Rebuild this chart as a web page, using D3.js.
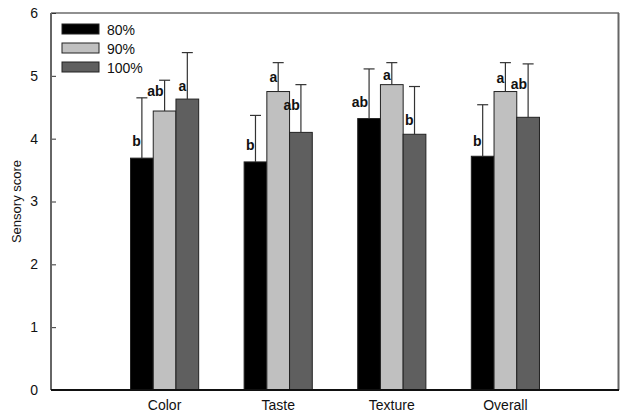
<!DOCTYPE html>
<html><head><meta charset="utf-8">
<script src="https://cdn.jsdelivr.net/npm/d3@7"></script>
<style>body{margin:0;background:#fff}svg{display:block}text{font-family:"Liberation Sans",Arial,sans-serif}</style>
</head><body>
<script>
const categories = ["Color","Taste","Texture","Overall"];
const seriesNames = ["80%","90%","100%"];
const s80  = [3.69, 3.63, 4.32, 3.72];
const s90  = [4.44, 4.75, 4.86, 4.75];
const s100 = [4.63, 4.10, 4.07, 4.34];
const e80  = [0.96, 0.74, 0.79, 0.82];
const e90  = [0.49, 0.46, 0.35, 0.46];
const e100 = [0.74, 0.76, 0.76, 0.85];
const letters80  = ["b","b","ab","b"];
const letters90  = ["ab","a","a","a"];
const letters100 = ["a","ab","b","ab"];
const labelAt80  = [3.89, 3.82, 4.51, 3.89];
const labelAt90  = [4.68, 4.90, 4.93, 4.89];
const labelAt100 = [4.76, 4.46, 4.22, 4.79];
const yTicks = [0,1,2,3,4,5,6];
const colors = ["#000000","#c0c0c0","#5f5f5f"];

const values=[s80,s90,s100], errs=[e80,e90,e100], letters=[letters80,letters90,letters100], labelAt=[labelAt80,labelAt90,labelAt100];

const W=624,H=415, L=51, R=619, T=13, B=390;
const svg=d3.select("body").append("svg").attr("width",W).attr("height",H);
const x=d3.scaleLinear().domain([0,5]).range([L,R]);
const y=d3.scaleLinear().domain([0,6]).range([B,T]);
const bw=0.2;

// frame top/right
svg.append("line").attr("x1",L).attr("x2",R).attr("y1",T).attr("y2",T).attr("stroke","#222").attr("stroke-width",1.2);
svg.append("line").attr("x1",R-0.5).attr("x2",R-0.5).attr("y1",T).attr("y2",B).attr("stroke","#666").attr("stroke-width",2);

const data=[];
categories.forEach((c,ci)=>{values.forEach((s,si)=>{data.push({ci,si,v:s[ci],e:errs[si][ci],lab:letters[si][ci],la:labelAt[si][ci]});});});

// bars
svg.selectAll("rect.bar").data(data).join("rect").attr("class","bar")
  .attr("x",d=>x(d.ci+1+(d.si-1.5)*bw)).attr("width",x(bw)-x(0))
  .attr("y",d=>y(d.v)).attr("height",d=>y(0)-y(d.v))
  .attr("fill",d=>colors[d.si]).attr("stroke","#222").attr("stroke-width",1);

// error bars
const cx=d=>x(d.ci+1+(d.si-1)*bw);
svg.selectAll("line.err").data(data).join("line").attr("class","err")
  .attr("x1",cx).attr("x2",cx).attr("y1",d=>y(d.v)).attr("y2",d=>y(d.v+d.e))
  .attr("stroke","#333").attr("stroke-width",1.2);
svg.selectAll("line.cap").data(data).join("line").attr("class","cap")
  .attr("x1",d=>cx(d)-5.5).attr("x2",d=>cx(d)+5.5).attr("y1",d=>y(d.v+d.e)).attr("y2",d=>y(d.v+d.e))
  .attr("stroke","#333").attr("stroke-width",1.2);

// letters
svg.selectAll("text.lab").data(data).join("text").attr("class","lab")
  .attr("x",d=>cx(d)-1).attr("y",d=>y(d.la)).attr("text-anchor","end")
  .attr("font-size",14).attr("font-weight","bold").attr("fill","#111").text(d=>d.lab);

// y axis
const ya=svg.append("g").attr("transform",`translate(${L},0)`)
  .call(d3.axisLeft(y).tickValues(yTicks).tickSize(-5).tickPadding(13).tickFormat(d3.format("d")));
ya.select(".domain").remove();
ya.selectAll(".tick line").attr("stroke","#333");
ya.selectAll(".tick text").attr("font-size",14).attr("fill","#111").style("font-family","Liberation Sans, Arial, sans-serif");
svg.append("line").attr("x1",L).attr("x2",L).attr("y1",T).attr("y2",B).attr("stroke","#666").attr("stroke-width",2);

// x axis
svg.append("line").attr("x1",L).attr("x2",R).attr("y1",B).attr("y2",B).attr("stroke","#111").attr("stroke-width",2);
svg.selectAll("text.xl").data(categories).join("text").attr("class","xl")
  .attr("x",(d,i)=>x(i+1)).attr("y",410).attr("text-anchor","middle").attr("font-size",14).attr("fill","#111").text(d=>d);

// y title
svg.append("text").attr("transform",`translate(21,${(T+B)/2}) rotate(-90)`).attr("text-anchor","middle")
  .attr("font-size",13).attr("fill","#111").text("Sensory score");

// legend
const lg=svg.append("g");
seriesNames.forEach((n,i)=>{
  lg.append("rect").attr("x",62).attr("y",24+i*19).attr("width",37).attr("height",10)
    .attr("fill",colors[i]).attr("stroke","#222").attr("stroke-width",1);
  lg.append("text").attr("x",107).attr("y",35+i*19).attr("font-size",14).attr("fill","#111").text(n);
});
</script>
</body></html>
